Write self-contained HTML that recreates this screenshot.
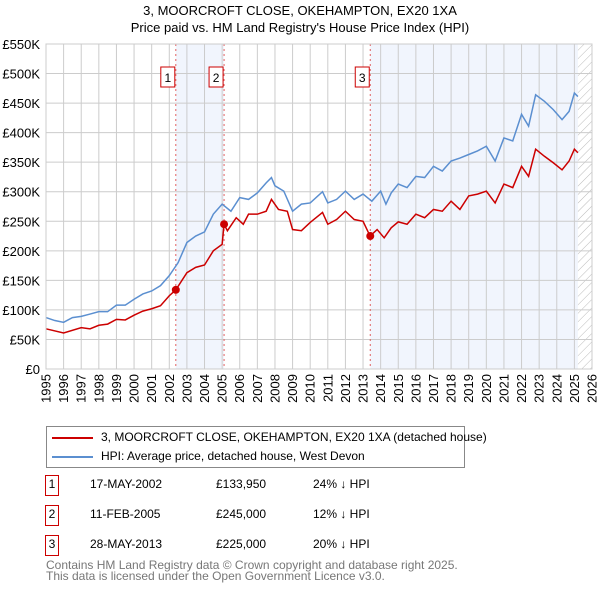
<!DOCTYPE html>
<html><head><meta charset="utf-8"><style>
body{margin:0;background:#fff;font-family:"Liberation Sans","DejaVu Sans",sans-serif;}
#wrap{position:relative;width:600px;height:590px;overflow:hidden;}
</style></head><body>
<div id="wrap">
<svg id="c" width="600" height="590" xmlns="http://www.w3.org/2000/svg" style="position:absolute;left:0;top:0">
<defs><pattern id="hatch" width="6" height="6" patternUnits="userSpaceOnUse" patternTransform="rotate(45)"><line x1="0" y1="0" x2="0" y2="6" stroke="#bbb" stroke-width="1"/></pattern></defs>
<text x="300" y="15" text-anchor="middle" font-size="13" fill="#000">3, MOORCROFT CLOSE, OKEHAMPTON, EX20 1XA</text>
<text x="300" y="32" text-anchor="middle" font-size="13" fill="#000">Price paid vs. HM Land Registry's House Price Index (HPI)</text>
<g id="plot"></g>
</svg>
<div style="position:absolute;left:46px;top:426px;width:417px;height:40px;border:1px solid #888;font-size:12px">
 <div style="position:absolute;left:5px;top:4px;width:41px;height:2px;background:#cc0000;margin-top:6px"></div>
 <div style="position:absolute;left:54px;top:3px;white-space:nowrap">3, MOORCROFT CLOSE, OKEHAMPTON, EX20 1XA (detached house)</div>
 <div style="position:absolute;left:5px;top:23px;width:41px;height:2px;background:#5b8fd0;margin-top:6px"></div>
 <div style="position:absolute;left:54px;top:22px;white-space:nowrap">HPI: Average price, detached house, West Devon</div>
</div>
<div id="table" style="font-size:12px"></div>
<div style="position:absolute;left:46px;top:560px;font-size:12px;color:#777;line-height:11px">Contains HM Land Registry data © Crown copyright and database right 2025.<br>This data is licensed under the Open Government Licence v3.0.</div>
</div>
<script>
const yearTicks=[1995,1996,1997,1998,1999,2000,2001,2002,2003,2004,2005,2006,2007,2008,2009,2010,2011,2012,2013,2014,2015,2016,2017,2018,2019,2020,2021,2022,2023,2024,2025,2026];
const valueTicks=[0,50000,100000,150000,200000,250000,300000,350000,400000,450000,500000,550000];
const valueTickLabels=["£0","£50K","£100K","£150K","£200K","£250K","£300K","£350K","£400K","£450K","£500K","£550K"];
const hpiYears=[1995.0,1995.5,1996.0,1996.5,1997.0,1997.5,1998.0,1998.5,1999.0,1999.5,2000.0,2000.5,2001.0,2001.5,2002.0,2002.5,2003.0,2003.5,2004.0,2004.5,2005.0,2005.5,2006.0,2006.5,2007.0,2007.5,2007.8,2008.0,2008.5,2009.0,2009.5,2010.0,2010.7,2011.0,2011.5,2012.0,2012.5,2013.0,2013.5,2014.0,2014.3,2014.6,2015.0,2015.5,2016.0,2016.5,2017.0,2017.5,2018.0,2018.5,2019.0,2019.5,2020.0,2020.5,2021.0,2021.5,2022.0,2022.4,2022.8,2023.3,2023.8,2024.3,2024.7,2025.0,2025.2];
const hpiValues=[87000,82000,79000,87000,89000,93000,97000,97000,108000,108000,118000,127000,132000,141000,158000,180000,214000,225000,232000,262000,279000,267000,290000,287000,298000,315000,324000,310000,301000,267000,279000,281000,300000,281000,287000,301000,287000,296000,284000,301000,279000,298000,313000,307000,326000,324000,343000,335000,352000,357000,363000,369000,377000,352000,391000,386000,431000,411000,464000,453000,439000,422000,436000,467000,461000];
const propYears=[1995.0,1996.0,1997.0,1997.5,1998.0,1998.5,1999.0,1999.5,2000.0,2000.5,2001.0,2001.5,2002.0,2002.37,2003.0,2003.5,2004.0,2004.5,2005.0,2005.11,2005.3,2005.8,2006.2,2006.5,2007.0,2007.5,2007.8,2008.2,2008.7,2009.0,2009.5,2010.0,2010.7,2011.0,2011.5,2012.0,2012.5,2013.0,2013.4,2013.8,2014.2,2014.6,2015.0,2015.5,2016.0,2016.5,2017.0,2017.5,2018.0,2018.5,2019.0,2019.5,2020.0,2020.5,2021.0,2021.5,2022.0,2022.4,2022.8,2023.3,2023.8,2024.3,2024.7,2025.0,2025.2];
const propValues=[68000,61000,70000,68000,74000,76000,84000,83000,91000,98000,102000,107000,124000,133950,163000,172000,176000,200000,211000,245000,234000,256000,245000,262000,262000,267000,287000,270000,267000,236000,234000,248000,265000,245000,253000,267000,253000,250000,225000,236000,222000,239000,249000,245000,262000,256000,270000,267000,284000,270000,293000,296000,301000,281000,313000,307000,343000,326000,372000,360000,349000,337000,352000,372000,366000];
const saleIds=["1","2","3"];
const saleYears=[2002.37,2005.11,2013.41];
const salePrices=[133950,245000,225000];
const saleDates=["17-MAY-2002","11-FEB-2005","28-MAY-2013"];
const salePriceLabels=["£133,950","£245,000","£225,000"];
const saleDiffs=["24% ↓ HPI","12% ↓ HPI","20% ↓ HPI"];
const dataEndYear=2025.2;

const X0=46,X1=592,Y0=369,Y1=44;
const xs=y=>X0+(y-1995)/(2026-1995)*(X1-X0);
const ys=v=>Y0-v/550000*(Y0-Y1);
const NS="http://www.w3.org/2000/svg";
const g=document.getElementById('plot');
function mk(t,a){const e=document.createElementNS(NS,t);for(const k in a)e.setAttribute(k,a[k]);g.appendChild(e);return e;}
let e;
e=mk('rect',{x:xs(saleYears[0]),y:Y1,width:xs(saleYears[1])-xs(saleYears[0]),height:Y0-Y1,fill:'#eef3fc',opacity:0.8});


e=mk('rect',{x:xs(saleYears[2]),y:Y1,width:xs(dataEndYear)-xs(saleYears[2]),height:Y0-Y1,fill:'#eef3fc',opacity:0.8});


e=mk('rect',{x:xs(dataEndYear),y:Y1,width:X1-xs(dataEndYear),height:Y0-Y1,fill:'url(#hatch)'});


yearTicks.forEach(yr=>{
 e=mk('line',{x1:xs(yr),x2:xs(yr),y1:Y1,y2:Y0,stroke:'#ccc','stroke-width':1});
 
 
 e=mk('text',{x:0,y:0,transform:`translate(${xs(yr)+4.5},374) rotate(-90)`,'text-anchor':'end','font-size':13,fill:'#000'});
 e.textContent=yr;
 
 
});
valueTicks.forEach((v,i)=>{
 e=mk('line',{x1:X0,x2:X1,y1:ys(v),y2:ys(v),stroke:'#ccc','stroke-width':1});
 
 
 e=mk('text',{x:40,y:ys(v)+5,'text-anchor':'end','font-size':13,fill:'#000'});
 e.textContent=valueTickLabels[i];
 
 
});
saleYears.forEach((yr,i)=>{
 e=mk('line',{x1:xs(yr),x2:xs(yr),y1:Y1,y2:Y0,stroke:'#e06060','stroke-width':1,'stroke-dasharray':'2,3'});
 
 
 e=mk('rect',{x:xs(yr)-15,y:67,width:14,height:20,fill:'#fff',stroke:'#cc0000','stroke-width':1});
 
 
 e=mk('text',{x:xs(yr)-8,y:82,'text-anchor':'middle','font-size':12,fill:'#000'});
 e.textContent=saleIds[i];
 
 
});
e=mk('polyline',{points:hpiYears.map((y,i)=>xs(y)+','+ys(hpiValues[i])).join(' '),fill:'none',stroke:'#5b8fd0','stroke-width':1.5});


e=mk('polyline',{points:propYears.map((y,i)=>xs(y)+','+ys(propValues[i])).join(' '),fill:'none',stroke:'#cc0000','stroke-width':1.5});


saleYears.forEach((yr,i)=>{
 e=mk('circle',{cx:xs(yr),cy:ys(salePrices[i]),r:4,fill:'#cc0000'});
 
 
});
e=mk('rect',{x:X0,y:Y1,width:X1-X0,height:Y0-Y1,fill:'none',stroke:'#ccc','stroke-width':1});


const tb=document.getElementById('table');
saleIds.forEach((id,i)=>{
 const top=475+i*30;
 const row=document.createElement('div');
 
 
 row.style.cssText=`position:absolute;left:0;top:${top}px;width:600px;height:22px;`;
 row.innerHTML=`<div style="position:absolute;left:45px;top:0;width:12px;height:19px;border:1px solid #cc0000;text-align:center;line-height:17px">${id}</div><div style="position:absolute;left:90px;top:2px">${saleDates[i]}</div><div style="position:absolute;left:216px;top:2px">${salePriceLabels[i]}</div><div style="position:absolute;left:313px;top:2px">${saleDiffs[i]}</div>`;
 tb.appendChild(row);
});
</script>
</body></html>
